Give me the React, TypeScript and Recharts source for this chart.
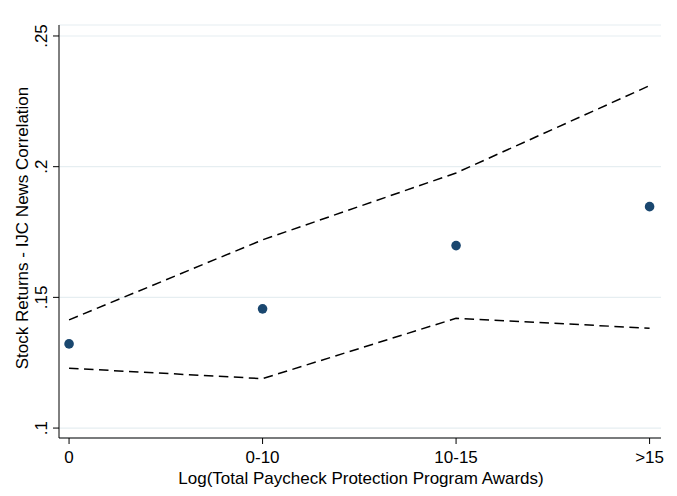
import React from "react";
import {
  ComposedChart,
  Line,
  Scatter,
  XAxis,
  YAxis,
  CartesianGrid,
} from "recharts";

// Award-size bins on the horizontal axis
const categories = ["0", "0-10", "10-15", ">15"];
// Point estimates of the correlation
const estimates = [0.1322, 0.1456, 0.1698, 0.1847];
// Upper and lower confidence bounds
const upperBound = [0.1414, 0.172, 0.1976, 0.231];
const lowerBound = [0.1229, 0.1189, 0.142, 0.1382];
// Vertical axis ticks and their labels
const yTicks = [0.1, 0.15, 0.2, 0.25];
const yTickLabels = [".1", ".15", ".2", ".25"];

const data = categories.map((c, i) => ({
  idx: i,
  est: estimates[i],
  hi: upperBound[i],
  lo: lowerBound[i],
}));

const FONT = "'Liberation Sans', Arial, Helvetica, sans-serif";
const NAVY = "#1a476f";

const YTick = (props: any) => {
  const { y, payload } = props;
  const i = yTicks.indexOf(payload.value);
  const label = i >= 0 ? yTickLabels[i] : String(payload.value);
  const tx = 47;
  return (
    <text
      x={tx}
      y={y}
      transform={`rotate(-90, ${tx}, ${y})`}
      textAnchor="middle"
      fontFamily={FONT}
      fontSize={17}
      fill="#000"
    >
      {label}
    </text>
  );
};

const XTick = (props: any) => {
  const { x, payload } = props;
  const label = categories[payload.value] ?? "";
  return (
    <text
      x={x}
      y={463}
      textAnchor="middle"
      fontFamily={FONT}
      fontSize={17}
      fill="#000"
    >
      {label}
    </text>
  );
};

const Dot = (props: any) => {
  const { cx, cy } = props;
  return <circle cx={cx} cy={cy} r={4.8} fill={NAVY} />;
};

export default function App() {
  return (
    <div
      style={{
        position: "absolute",
        left: 0,
        top: 0,
        width: 677,
        height: 496,
        background: "#fff",
      }}
    >
      <ComposedChart
        width={677}
        height={496}
        data={data}
        margin={{ top: 25, right: 16, bottom: 0, left: 0 }}
      >
        <CartesianGrid
          horizontal
          vertical={false}
          stroke="#e6eef1"
          strokeWidth={1.2}
        />
        <XAxis
          dataKey="idx"
          type="number"
          domain={[-0.052, 3.059]}
          ticks={[0, 1, 2, 3]}
          height={58}
          stroke="#000"
          tickLine={{ stroke: "#000" }}
          tickSize={6}
          tick={<XTick />}
          allowDataOverflow
        />
        <YAxis
          type="number"
          domain={[0.0962, 0.2542]}
          ticks={yTicks}
          width={59}
          stroke="#000"
          tickLine={{ stroke: "#000" }}
          tickSize={6}
          tick={<YTick />}
          allowDataOverflow
        />
        <Line
          dataKey="hi"
          stroke="#000"
          strokeWidth={1.5}
          strokeDasharray="9.5 5.5"
          dot={false}
          activeDot={false}
          isAnimationActive={false}
        />
        <Line
          dataKey="lo"
          stroke="#000"
          strokeWidth={1.5}
          strokeDasharray="9.5 5.5"
          dot={false}
          activeDot={false}
          isAnimationActive={false}
        />
        <Scatter dataKey="est" shape={<Dot />} isAnimationActive={false} />
        <text
          x={28}
          y={228}
          transform="rotate(-90, 28, 228)"
          textAnchor="middle"
          fontFamily={FONT}
          fontSize={17}
          fill="#000"
        >
          Stock Returns - IJC News Correlation
        </text>
        <text
          x={361}
          y={484}
          textAnchor="middle"
          fontFamily={FONT}
          fontSize={17}
          fill="#000"
        >
          Log(Total Paycheck Protection Program Awards)
        </text>
      </ComposedChart>
    </div>
  );
}
